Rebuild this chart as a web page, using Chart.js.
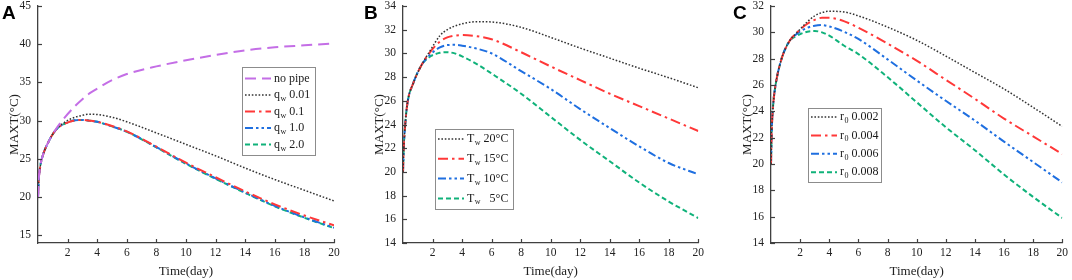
<!DOCTYPE html>
<html>
<head>
<meta charset="utf-8">
<title>MAXT curves</title>
<script src="https://cdn.jsdelivr.net/npm/chart.js@4.4.0/dist/chart.umd.min.js"></script>
<style>
  body { margin: 0; background: #fff; }
  #wrap { position: relative; width: 1072px; height: 280px; }
  canvas { position: absolute; top: 0; }
  .tag { position: absolute; font: bold 19px "Liberation Sans", Arial, sans-serif; line-height: 19px; color: #000; }
</style>
</head>
<body>
<div id="wrap">
  <canvas id="chA" width="350" height="280" style="left:0px"></canvas>
  <canvas id="chB" width="350" height="280" style="left:365px"></canvas>
  <canvas id="chC" width="339" height="280" style="left:733px"></canvas>
  <div class="tag" style="left:2px;top:3px">A</div>
  <div class="tag" style="left:364px;top:3px">B</div>
  <div class="tag" style="left:733px;top:3px">C</div>
</div>
<script>
// time axis (days), shared by all curves
var days = [0, 0.05, 0.15, 0.3, 0.7, 1.25, 1.8, 2.5, 3, 3.5, 4, 5, 6, 8, 10, 12, 14, 16, 18, 20];
var xTicks = [2, 4, 6, 8, 10, 12, 14, 16, 18, 20];

// panel A: flow rate q_w
var noPipe = [20, 22.3, 24.0, 25.3, 27.2, 29.0, 30.4, 31.9, 32.8, 33.6, 34.2, 35.3, 36.1, 37.1, 37.9, 38.6, 39.2, 39.6, 39.85, 40.1];
var qw001  = [20, 22.3, 24.0, 25.3, 27.2, 28.9, 29.8, 30.45, 30.7, 30.85, 30.8, 30.45, 29.85, 28.4, 26.9, 25.4, 23.8, 22.3, 20.9, 19.5];
var qw01   = [20, 22.3, 24.0, 25.3, 27.2, 28.9, 29.6, 30.05, 30.1, 30.0, 29.85, 29.3, 28.6, 26.6, 24.5, 22.6, 20.75, 19.05, 17.6, 16.3];
var qw10   = [20, 22.3, 24.0, 25.3, 27.2, 28.9, 29.6, 30.05, 30.1, 30.0, 29.85, 29.25, 28.55, 26.55, 24.4, 22.45, 20.6, 18.85, 17.35, 16.0];
var qw20   = [20, 22.3, 24.0, 25.3, 27.2, 28.9, 29.6, 30.05, 30.1, 30.0, 29.85, 29.25, 28.55, 26.5, 24.35, 22.4, 20.55, 18.8, 17.3, 15.95];
var ticksA = [15, 20, 25, 30, 35, 40, 45];
var legendA = [['no pipe', '', ''], ['q', 'w', ' 0.01'], ['q', 'w', ' 0.1'], ['q', 'w', ' 1.0'], ['q', 'w', ' 2.0']];

// panel B: water temperature T_w
var tw20 = [20, 22.0, 24.0, 25.8, 27.5, 29.0, 30.15, 31.5, 32.0, 32.3, 32.5, 32.68, 32.65, 32.2, 31.35, 30.45, 29.6, 28.75, 27.95, 27.1];
var tw15 = [20, 22.0, 24.0, 25.8, 27.5, 29.0, 30.05, 31.0, 31.35, 31.5, 31.55, 31.45, 31.2, 30.1, 28.9, 27.75, 26.6, 25.55, 24.5, 23.45];
var tw10 = [20, 22.0, 24.0, 25.8, 27.5, 29.0, 29.85, 30.5, 30.7, 30.72, 30.65, 30.4, 30.0, 28.5, 27.0, 25.3, 23.7, 22.15, 20.75, 19.8];
var tw5  = [20, 22.0, 24.0, 25.8, 27.5, 29.0, 29.7, 30.05, 30.1, 30.0, 29.75, 29.1, 28.3, 26.6, 24.65, 22.7, 20.9, 19.1, 17.5, 16.1];
var ticksB = [14, 16, 18, 20, 22, 24, 26, 28, 30, 32, 34];
var legendB = [['T', 'w', ' 20°C'], ['T', 'w', ' 15°C'], ['T', 'w', ' 10°C'], ['T', 'w', '   5°C']];

// panel C: pipe radius r_0
var r002 = [20, 22.5, 24.5, 25.9, 27.9, 29.3, 30.0, 30.8, 31.25, 31.5, 31.6, 31.55, 31.25, 30.4, 29.4, 28.2, 26.95, 25.7, 24.3, 22.85];
var r004 = [20, 22.5, 24.5, 25.9, 27.9, 29.3, 30.0, 30.65, 30.95, 31.1, 31.1, 30.85, 30.35, 29.15, 27.85, 26.4, 24.95, 23.45, 22.1, 20.75];
var r006 = [20, 22.5, 24.5, 25.9, 27.9, 29.3, 29.9, 30.35, 30.5, 30.55, 30.45, 30.05, 29.5, 27.95, 26.35, 24.8, 23.3, 21.7, 20.15, 18.6];
var r008 = [20, 22.5, 24.5, 25.9, 27.9, 29.3, 29.75, 30.05, 30.1, 30.0, 29.75, 29.0, 28.35, 26.6, 24.7, 22.8, 21.05, 19.2, 17.5, 15.9];
var ticksC = [14, 16, 18, 20, 22, 24, 26, 28, 30, 32];
var legendC = [['r', '0', ' 0.002'], ['r', '0', ' 0.004'], ['r', '0', ' 0.006'], ['r', '0', ' 0.008']];

// line styles
var sViolet = { color: '#c46ee6', dash: [11, 6], width: 2 };
var sDot    = { color: '#333333', dash: [1.6, 1.8], width: 1.5 };
var sRed    = { color: '#ff3838', dash: [10, 4, 2.5, 4], width: 2 };
var sBlue   = { color: '#1f6fe0', dash: [8, 3, 2.5, 3, 2.5, 3], width: 2 };
var sGreen  = { color: '#10b27a', dash: [5, 3], width: 2 };

var serif = '"Liberation Serif", "Times New Roman", serif';
var axisColor = '#404040';

function toPoints(vals) {
    return days.map(function (d, i) { return { x: d, y: vals[i] }; });
}

var decor = {
    id: 'decor',
    afterDraw: function (chart, args, opts) {
        var ctx = chart.ctx;
        var xs = chart.scales.x, ys = chart.scales.y;
        var area = chart.chartArea;
        ctx.save();
        // inward tick marks
        ctx.strokeStyle = axisColor;
        ctx.lineWidth = 1.2;
        ctx.setLineDash([]);
        xs.ticks.forEach(function (t) {
            var px = Math.round(xs.getPixelForValue(t.value)) + 0.5;
            ctx.beginPath(); ctx.moveTo(px, area.bottom); ctx.lineTo(px, area.bottom - 4); ctx.stroke();
        });
        ys.ticks.forEach(function (t) {
            var py = Math.round(ys.getPixelForValue(t.value)) + 0.5;
            ctx.beginPath(); ctx.moveTo(area.left, py); ctx.lineTo(area.left + 4, py); ctx.stroke();
        });
        // legend box with subscripts
        var b = opts.box;
        ctx.fillStyle = '#fff';
        ctx.fillRect(b.x, b.y, b.w, b.h);
        ctx.strokeStyle = '#8c8c8c';
        ctx.lineWidth = 1;
        ctx.strokeRect(b.x + 0.5, b.y + 0.5, b.w, b.h);
        chart.data.datasets.forEach(function (ds, i) {
            var y = b.y + b.first + i * b.step;
            ctx.save();
            ctx.strokeStyle = ds.borderColor;
            ctx.lineWidth = ds.borderWidth;
            ctx.setLineDash(ds.borderDash);
            ctx.beginPath(); ctx.moveTo(b.x + 3, y); ctx.lineTo(b.x + 29, y); ctx.stroke();
            ctx.restore();
            var lab = opts.labels[i];
            var tx = b.x + 32;
            ctx.fillStyle = '#1a1a1a';
            ctx.textBaseline = 'middle';
            ctx.font = '12px ' + serif;
            ctx.fillText(lab[0], tx, y);
            tx += ctx.measureText(lab[0]).width;
            if (lab[1]) {
                ctx.font = '8px ' + serif;
                ctx.fillText(lab[1], tx + 0.5, y + 4);
                tx += ctx.measureText(lab[1]).width + 0.5;
            }
            ctx.font = '12px ' + serif;
            ctx.fillText(lab[2], tx, y);
        });
        ctx.restore();
    }
};

function makeChart(id, series, styles, yMin, yMax, yTicks, labels, box, padRight) {
    var datasets = series.map(function (s, i) {
        var st = styles[i];
        return {
            data: toPoints(s),
            borderColor: st.color,
            borderDash: st.dash,
            borderWidth: st.width,
            pointRadius: 0,
            fill: false,
            cubicInterpolationMode: 'monotone'
        };
    });
    return new Chart(document.getElementById(id), {
        type: 'line',
        data: { datasets: datasets },
        plugins: [decor],
        options: {
            responsive: false,
            animation: false,
            devicePixelRatio: 1,
            layout: { padding: { top: 6, right: padRight, left: 0, bottom: 0 } },
            plugins: {
                legend: { display: false },
                tooltip: { enabled: false },
                decor: { box: box, labels: labels }
            },
            scales: {
                x: {
                    type: 'linear', min: 0, max: 20,
                    afterBuildTicks: function (sc) { sc.ticks = xTicks.map(function (v) { return { value: v }; }); },
                    afterFit: function (sc) { sc.height = 37; },
                    grid: { display: true, drawOnChartArea: false, drawTicks: false },
                    border: { display: true, color: axisColor, width: 1.3 },
                    ticks: { padding: 4, color: '#222', maxRotation: 0, font: { family: serif, size: 11.5, lineHeight: 1 } },
                    title: { display: true, text: 'Time(day)', color: '#222', padding: { top: 0, bottom: 1 }, font: { family: serif, size: 13 } }
                },
                y: {
                    type: 'linear', min: yMin, max: yMax,
                    afterBuildTicks: function (sc) { sc.ticks = yTicks.map(function (v) { return { value: v }; }); },
                    afterFit: function (sc) { sc.width = 38; sc.paddingTop = 0; sc.paddingBottom = 0; },
                    grid: { display: true, drawOnChartArea: false, drawTicks: false },
                    border: { display: true, color: axisColor, width: 1.3 },
                    ticks: { padding: 7, color: '#222', font: { family: serif, size: 11.5, lineHeight: 1 } },
                    title: { display: true, text: 'MAXT(°C)', color: '#222', padding: { top: 6.5, bottom: 0 }, font: { family: serif, size: 13 } }
                }
            }
        }
    });
}

makeChart('chA', [noPipe, qw001, qw01, qw10, qw20], [sViolet, sDot, sRed, sBlue, sGreen],
    14, 45, ticksA, legendA, { x: 242, y: 67, w: 73, h: 88, first: 11.5, step: 16.5 }, 16);
makeChart('chB', [tw20, tw15, tw10, tw5], [sDot, sRed, sBlue, sGreen],
    14, 34, ticksB, legendB, { x: 70, y: 129, w: 78, h: 80, first: 10, step: 19.8 }, 16.7);
makeChart('chC', [r002, r004, r006, r008], [sDot, sRed, sBlue, sGreen],
    14, 32, ticksC, legendC, { x: 75, y: 108, w: 73, h: 74, first: 9, step: 18.4 }, 6.7);
</script>
</body>
</html>
